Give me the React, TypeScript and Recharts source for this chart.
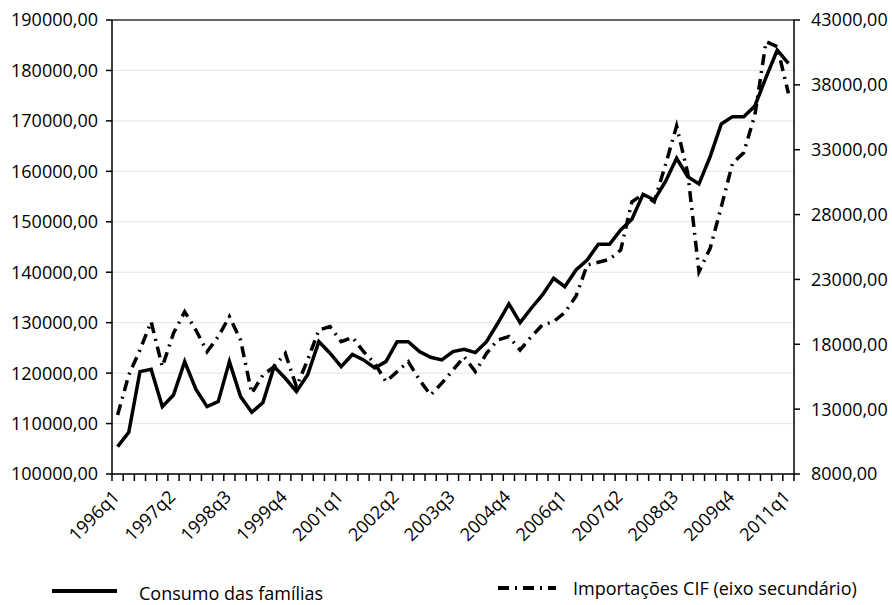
import { CartesianGrid, Line, LineChart, ReferenceLine, XAxis, YAxis } from "recharts";

const quarters = [
  "1996q1", "1996q2", "1996q3", "1996q4", "1997q1", "1997q2", "1997q3", "1997q4",
  "1998q1", "1998q2", "1998q3", "1998q4", "1999q1", "1999q2", "1999q3", "1999q4",
  "2000q1", "2000q2", "2000q3", "2000q4", "2001q1", "2001q2", "2001q3", "2001q4",
  "2002q1", "2002q2", "2002q3", "2002q4", "2003q1", "2003q2", "2003q3", "2003q4",
  "2004q1", "2004q2", "2004q3", "2004q4", "2005q1", "2005q2", "2005q3", "2005q4",
  "2006q1", "2006q2", "2006q3", "2006q4", "2007q1", "2007q2", "2007q3", "2007q4",
  "2008q1", "2008q2", "2008q3", "2008q4", "2009q1", "2009q2", "2009q3", "2009q4",
  "2010q1", "2010q2", "2010q3", "2010q4", "2011q1",
];

// Consumo das famílias (eixo principal)
const consumo = [
  105420, 108280, 120290, 120760, 113360, 115670, 122280, 116800, 113360, 114350,
  122280, 115340, 112240, 114160, 121280, 118980, 116330, 119670, 126240, 123940,
  121280, 123700, 122610, 121030, 122280, 126240, 126240, 124260, 123140, 122610,
  124260, 124730, 124070, 126240, 129880, 133710, 130000, 132860, 135490, 138800,
  137140, 140450, 142430, 145540, 145540, 148380, 150500, 155450, 154320, 157950,
  162590, 158940, 157500, 162920, 169390, 170840, 170840, 172950, 178640, 184050,
  181410,
];

// Importações CIF (eixo secundário)
const importacoes = [
  12550, 15630, 17560, 19740, 16270, 18850, 20510, 19100, 17430, 18590,
  20130, 18330, 14220, 15630, 16270, 17300, 14730, 16790, 19100, 19360,
  18200, 18540, 17430, 16530, 15120, 15890, 16660, 15250, 14090, 15000,
  16020, 17040, 15890, 17300, 18330, 18590, 17560, 18590, 19490, 19740,
  20450, 21700, 24110, 24320, 24550, 25270, 28990, 29560, 28990, 31820,
  34830, 31180, 23600, 25400, 28610, 31950, 32770, 35680, 41330, 40940,
  37350,
];

const leftTicks = [100000, 110000, 120000, 130000, 140000, 150000, 160000, 170000, 180000, 190000];
const rightTicks = [8000, 13000, 18000, 23000, 28000, 33000, 38000, 43000];

const data = quarters.map((q, i) => ({ q, consumo: consumo[i], importacoes: importacoes[i] }));

const FONT = "'Open Sans', sans-serif";
const FS = 18;
const PLOT_W = 682;
const HALF = PLOT_W / quarters.length / 2;
const DASH = "11 6 2 6";

const fmt = (v: number) => v.toFixed(2).replace(".", ",");

const XTick = (props: any) => {
  const { x, y, payload } = props;
  const idx = quarters.indexOf(payload.value);
  const lx = x + 3;
  const ly = y + 24;
  return (
    <g>
      <line x1={x - HALF} x2={x - HALF} y1={y} y2={y + 7} stroke="#000" strokeWidth={1.5} />
      {idx === quarters.length - 1 && (
        <line x1={x + HALF} x2={x + HALF} y1={y} y2={y + 7} stroke="#000" strokeWidth={1.5} />
      )}
      {idx % 5 === 0 && (
        <text
          x={lx}
          y={ly}
          textAnchor="end"
          fontSize={FS}
          fontFamily={FONT}
          fill="#000"
          transform={`rotate(-45, ${lx}, ${ly})`}
        >
          {payload.value}
        </text>
      )}
    </g>
  );
};

export default function App() {
  return (
    <div style={{ position: "absolute", left: 0, top: 0, width: 892, height: 605, background: "#fff" }}>
      <LineChart width={892} height={605} data={data} margin={{ top: 20, right: 0, bottom: 0, left: 0 }}>
        <CartesianGrid yAxisId="left" vertical={false} stroke="#e4e4e4" strokeWidth={1} />
        <XAxis
          dataKey="q"
          interval={0}
          height={131}
          tickSize={0}
          tickMargin={0}
          tick={<XTick />}
          padding={{ left: HALF, right: HALF }}
          axisLine={{ stroke: "#000", strokeWidth: 1.5 }}
        />
        <YAxis
          yAxisId="left"
          width={112}
          domain={[100000, 190000]}
          ticks={leftTicks}
          tickFormatter={fmt}
          tickSize={6}
          tickMargin={8}
          axisLine={{ stroke: "#000", strokeWidth: 1.5 }}
          tickLine={{ stroke: "#000", strokeWidth: 1.5 }}
          tick={{ fill: "#000", fontSize: FS, fontFamily: FONT }}
        />
        <YAxis
          yAxisId="right"
          orientation="right"
          width={98}
          domain={[8000, 43000]}
          ticks={rightTicks}
          tickFormatter={fmt}
          tickSize={6}
          tickMargin={11}
          axisLine={{ stroke: "#000", strokeWidth: 1.5 }}
          tickLine={{ stroke: "#000", strokeWidth: 1.5 }}
          tick={{ fill: "#000", fontSize: FS, fontFamily: FONT }}
        />
        <ReferenceLine yAxisId="left" y={190000} stroke="#333" strokeWidth={1.5} />
        <Line
          yAxisId="left"
          type="linear"
          dataKey="consumo"
          stroke="#000"
          strokeWidth={3.5}
          dot={false}
          isAnimationActive={false}
        />
        <Line
          yAxisId="right"
          type="linear"
          dataKey="importacoes"
          stroke="#000"
          strokeWidth={3.5}
          strokeDasharray={DASH}
          dot={false}
          isAnimationActive={false}
        />
      </LineChart>
      <svg width={892} height={605} style={{ position: "absolute", left: 0, top: 0, pointerEvents: "none" }}>
        <line x1={52} x2={117} y1={591} y2={591} stroke="#000" strokeWidth={4} />
        <text x={139} y={600} fontSize={FS} fontFamily={FONT} fill="#000">
          Consumo das famílias
        </text>
        <line x1={498} x2={556} y1={588} y2={588} stroke="#000" strokeWidth={4} strokeDasharray={DASH} />
        <text x={573} y={595} fontSize={FS} fontFamily={FONT} fill="#000">
          Importações CIF (eixo secundário)
        </text>
      </svg>
    </div>
  );
}
